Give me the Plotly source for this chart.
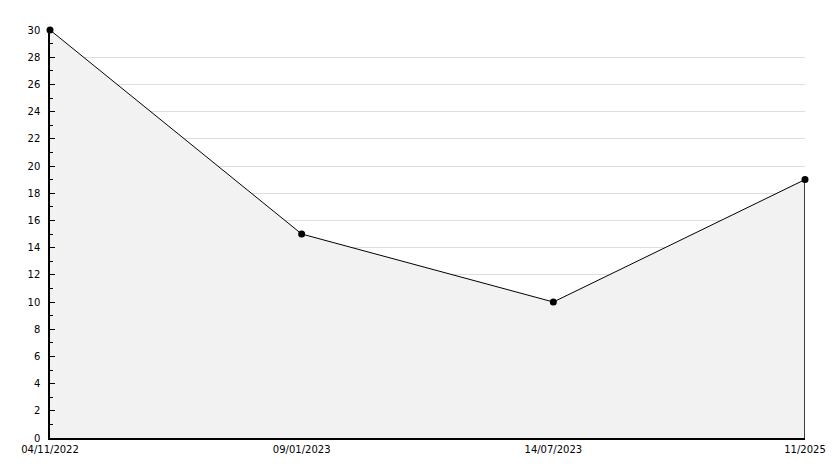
import plotly.graph_objects as go

dates = ["04/11/2022", "09/01/2023", "14/07/2023", "11/2025"]
values = [30, 15, 10, 19]
positions = list(range(len(dates)))

fig = go.Figure()
fig.add_trace(go.Scatter(
    x=positions, y=values, mode="lines+markers",
    fill="tozeroy", fillcolor="#f2f2f2",
    line=dict(color="black", width=1),
    marker=dict(color="black", size=7, symbol="circle"),
    cliponaxis=False,
    hoverinfo="skip", showlegend=False,
))
# closing edge of the area at the last point
fig.add_trace(go.Scatter(
    x=[positions[-1], positions[-1]], y=[0, values[-1]], mode="lines",
    line=dict(color="black", width=1.5), cliponaxis=False,
    hoverinfo="skip", showlegend=False,
))

# the page body adds an 8px offset, so the figure is sized to compensate
fig.update_layout(
    width=826, height=460,
    margin=dict(l=42, r=29, t=22, b=30),
    paper_bgcolor="white", plot_bgcolor="white",
    font=dict(family="DejaVu Sans", size=10, color="black"),
)
fig.update_xaxes(
    range=[positions[0], positions[-1]],
    tickvals=positions, ticktext=dates,
    showgrid=False, zeroline=False, automargin=False,
    showline=True, linecolor="black", linewidth=1.5,
    ticks="", ticklabelstandoff=1,
)
fig.update_yaxes(
    range=[0, 30], dtick=2, tick0=0, automargin=False,
    showgrid=True, gridcolor="#dddddd", gridwidth=1,
    zeroline=False,
    showline=True, linecolor="black", linewidth=1.5,
    ticks="inside", ticklen=5, tickcolor="black", ticklabelstandoff=6,
    minor=dict(dtick=1, ticks="inside", ticklen=3, tickcolor="black", showgrid=False),
)

fig.write_html("out.html")
